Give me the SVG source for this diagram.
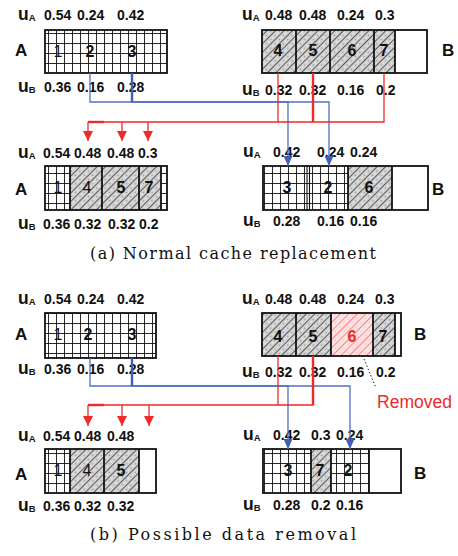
<svg xmlns="http://www.w3.org/2000/svg" width="458" height="556" viewBox="0 0 458 556">
<defs>
<style>
.n{font-family:"Liberation Sans",Arial,sans-serif;font-size:14px;font-weight:bold;fill:#111}
.u{font-family:"Liberation Sans",Arial,sans-serif;font-size:17.5px;font-weight:bold;fill:#111}
.s{font-size:9.5px}
.lbl{font-family:"Liberation Sans",Arial,sans-serif;font-size:17px;font-weight:bold;fill:#111}
.c{font-family:"Liberation Sans",Arial,sans-serif;font-size:16px;font-weight:bold;fill:#111;text-anchor:middle}
.c1{font-weight:normal}
.cap{font-family:"DejaVu Serif","Liberation Serif",serif;font-size:16px;fill:#111}
.box{fill:none;stroke:#111;stroke-width:1.8}
.dv{stroke:#111;stroke-width:1.8}
.dv2{stroke:#111;stroke-width:1.1}
.r{fill:none;stroke:#ee2a2a;stroke-width:1.3}
.rt{fill:none;stroke:#ee2a2a;stroke-width:2.4}
.b{fill:none;stroke:#5070c0;stroke-width:1.3}
.bt{fill:none;stroke:#3f5fb5;stroke-width:2.4}
.ra{marker-end:url(#arR)}
.ba{marker-end:url(#arB)}
</style>
<pattern id="grid" patternUnits="userSpaceOnUse" width="8" height="10">
<rect width="8" height="10" fill="#fff"/>
<line x1="0.5" y1="0" x2="0.5" y2="10" stroke="#111" stroke-width="0.9"/>
<line x1="0" y1="3.5" x2="8" y2="3.5" stroke="#111" stroke-width="0.9"/>
</pattern>
<pattern id="hatch" patternUnits="userSpaceOnUse" width="6" height="6" patternTransform="rotate(45)">
<rect width="6" height="6" fill="#d2d2d2"/>
<line x1="0.5" y1="0" x2="0.5" y2="6" stroke="#3a3a3a" stroke-width="0.8"/>
<circle cx="3.5" cy="1.5" r="0.6" fill="#fff"/>
<circle cx="3.5" cy="4.5" r="0.6" fill="#808080"/>
</pattern>
<pattern id="hatchR" patternUnits="userSpaceOnUse" width="6" height="6" patternTransform="rotate(45)">
<rect width="6" height="6" fill="#fde3e3"/>
<line x1="0.5" y1="0" x2="0.5" y2="6" stroke="#f07070" stroke-width="0.8"/>
<circle cx="3.5" cy="3" r="0.6" fill="#f5a0a0"/>
</pattern>
<marker id="arR" markerUnits="userSpaceOnUse" markerWidth="10" markerHeight="10" viewBox="0 0 10 10" refX="10" refY="5" orient="auto">
<path d="M0,0 L10,5 L0,10 z" fill="#ee2a2a"/>
</marker>
<marker id="arB" markerUnits="userSpaceOnUse" markerWidth="10" markerHeight="9" viewBox="0 0 10 9" refX="10" refY="4.5" orient="auto">
<path d="M0,0 L10,4.5 L0,9 z" fill="#4060b8"/>
</marker>
</defs>
<rect width="458" height="556" fill="#fff"/>

<!-- (a) top cache A -->
<g id="a-top-A">
<rect x="45" y="30" width="122" height="43" fill="url(#grid)"/>
<rect class="box" x="45" y="30" width="122" height="43"/>
<text class="c c1" x="58" y="57">1</text>
<text class="c" x="90" y="57">2</text>
<text class="c" x="132" y="57">3</text>
<text class="lbl" x="15" y="56">A</text>
</g>

<!-- (a) top cache B -->
<g id="a-top-B">
<rect x="262" y="30" width="133" height="43" fill="url(#hatch)"/>
<line class="dv" x1="296" y1="30" x2="296" y2="73"/>
<line class="dv" x1="330" y1="30" x2="330" y2="73"/>
<line class="dv" x1="374" y1="30" x2="374" y2="73"/>
<line class="dv" x1="395" y1="30" x2="395" y2="73"/>
<rect class="box" x="262" y="30" width="165" height="43"/>
<text class="c" x="278" y="56">4</text>
<text class="c" x="313" y="56">5</text>
<text class="c" x="352" y="56">6</text>
<text class="c" x="384" y="56">7</text>
<text class="lbl" x="442" y="56">B</text>
</g>

<!-- (a) lower cache A -->
<g id="a-bot-A">
<rect x="45" y="166" width="25" height="44" fill="url(#grid)"/>
<rect x="70" y="166" width="91" height="44" fill="url(#hatch)"/>
<rect x="161" y="166" width="6" height="44" fill="url(#grid)"/>
<line class="dv" x1="70" y1="166" x2="70" y2="210"/>
<line class="dv" x1="102" y1="166" x2="102" y2="210"/>
<line class="dv" x1="139" y1="166" x2="139" y2="210"/>
<line class="dv" x1="161" y1="166" x2="161" y2="210"/>
<rect class="box" x="45" y="166" width="122" height="44"/>
<text class="c c1" x="58" y="193">1</text>
<text class="c c1" x="87" y="193">4</text>
<text class="c" x="121" y="193">5</text>
<text class="c" x="149" y="193">7</text>
<text class="lbl" x="15" y="195">A</text>
</g>

<!-- (a) lower cache B -->
<g id="a-bot-B">
<rect x="263" y="166" width="85" height="44" fill="url(#grid)"/>
<rect x="348" y="166" width="44" height="44" fill="url(#hatch)"/>
<line class="dv2" x1="307" y1="166" x2="307" y2="210"/>
<line class="dv2" x1="309.5" y1="166" x2="309.5" y2="210"/>
<line class="dv" x1="348" y1="166" x2="348" y2="210"/>
<line class="dv" x1="392" y1="166" x2="392" y2="210"/>
<rect class="box" x="263" y="166" width="165" height="44"/>
<text class="c" x="287" y="193">3</text>
<text class="c" x="328" y="193">2</text>
<text class="c" x="369" y="193">6</text>
<text class="lbl" x="432" y="195">B</text>
</g>

<!-- (b) top cache A -->
<g id="b-top-A">
<rect x="45" y="313" width="111" height="45" fill="url(#grid)"/>
<rect class="box" x="45" y="313" width="111" height="45"/>
<text class="c c1" x="58" y="340">1</text>
<text class="c" x="88" y="340">2</text>
<text class="c" x="132" y="340">3</text>
<text class="lbl" x="15" y="340">A</text>
</g>

<!-- (b) top cache B -->
<g id="b-top-B">
<rect x="262" y="313" width="69" height="43" fill="url(#hatch)"/>
<rect x="331" y="313" width="42" height="43" fill="url(#hatchR)"/>
<rect x="373" y="313" width="22" height="43" fill="url(#hatch)"/>
<line class="dv" x1="296" y1="313" x2="296" y2="356"/>
<line class="dv" x1="331" y1="313" x2="331" y2="356"/>
<line class="dv" x1="373" y1="313" x2="373" y2="356"/>
<line class="dv" x1="395" y1="313" x2="395" y2="356"/>
<rect class="box" x="262" y="313" width="139" height="43"/>
<text class="c" x="278" y="342">4</text>
<text class="c" x="313" y="342">5</text>
<text class="c" x="352" y="342" style="fill:#ee2a2a">6</text>
<text class="c" x="383" y="342">7</text>
<text class="lbl" x="414" y="340">B</text>
</g>

<!-- (b) lower cache A -->
<g id="b-bot-A">
<rect x="45" y="449" width="25" height="44" fill="url(#grid)"/>
<rect x="70" y="449" width="69" height="44" fill="url(#hatch)"/>
<line class="dv" x1="70" y1="449" x2="70" y2="493"/>
<line class="dv" x1="104" y1="449" x2="104" y2="493"/>
<line class="dv" x1="139" y1="449" x2="139" y2="493"/>
<rect class="box" x="45" y="449" width="111" height="44"/>
<text class="c c1" x="58" y="476">1</text>
<text class="c c1" x="87" y="476">4</text>
<text class="c" x="121" y="476">5</text>
<text class="lbl" x="15" y="480">A</text>
</g>

<!-- (b) lower cache B -->
<g id="b-bot-B">
<rect x="263" y="449" width="48" height="44" fill="url(#grid)"/>
<rect x="311" y="449" width="20" height="44" fill="url(#hatch)"/>
<rect x="331" y="449" width="38" height="44" fill="url(#grid)"/>
<line class="dv" x1="311" y1="449" x2="311" y2="493"/>
<line class="dv" x1="331" y1="449" x2="331" y2="493"/>
<line class="dv" x1="369" y1="449" x2="369" y2="493"/>
<rect class="box" x="263" y="449" width="138" height="44"/>
<text class="c" x="288" y="476">3</text>
<text class="c" x="320" y="476">7</text>
<text class="c" x="348" y="476">2</text>
<text class="lbl" x="414" y="479">B</text>
</g>

<!-- utility labels -->
<g id="labels">
<text class="u" x="18" y="20">u<tspan class="s" dy="1">A</tspan></text>
<text class="n" y="20"><tspan x="44">0.54</tspan><tspan x="77">0.24</tspan><tspan x="117">0.42</tspan></text>
<text class="u" x="18" y="92">u<tspan class="s" dy="1">B</tspan></text>
<text class="n" y="92"><tspan x="44">0.36</tspan><tspan x="77">0.16</tspan><tspan x="117">0.28</tspan></text>
<text class="u" x="242" y="20">u<tspan class="s" dy="1">A</tspan></text>
<text class="n" y="20"><tspan x="265">0.48</tspan><tspan x="299">0.48</tspan><tspan x="337">0.24</tspan><tspan x="375">0.3</tspan></text>
<text class="u" x="242" y="95">u<tspan class="s" dy="1">B</tspan></text>
<text class="n" y="95"><tspan x="265">0.32</tspan><tspan x="299">0.32</tspan><tspan x="337">0.16</tspan><tspan x="376">0.2</tspan></text>

<text class="u" x="18" y="158">u<tspan class="s" dy="1">A</tspan></text>
<text class="n" y="158"><tspan x="43">0.54</tspan><tspan x="74">0.48</tspan><tspan x="107">0.48</tspan><tspan x="138">0.3</tspan></text>
<text class="u" x="18" y="229">u<tspan class="s" dy="1">B</tspan></text>
<text class="n" y="229"><tspan x="43">0.36</tspan><tspan x="74">0.32</tspan><tspan x="108">0.32</tspan><tspan x="139">0.2</tspan></text>
<text class="u" x="243" y="157">u<tspan class="s" dy="1">A</tspan></text>
<text class="n" y="157"><tspan x="273">0.42</tspan><tspan x="317">0.24</tspan><tspan x="350">0.24</tspan></text>
<text class="u" x="243" y="226">u<tspan class="s" dy="1">B</tspan></text>
<text class="n" y="226"><tspan x="273">0.28</tspan><tspan x="317">0.16</tspan><tspan x="350">0.16</tspan></text>

<text class="u" x="18" y="304">u<tspan class="s" dy="1">A</tspan></text>
<text class="n" y="304"><tspan x="44">0.54</tspan><tspan x="77">0.24</tspan><tspan x="117">0.42</tspan></text>
<text class="u" x="18" y="374">u<tspan class="s" dy="1">B</tspan></text>
<text class="n" y="374"><tspan x="44">0.36</tspan><tspan x="77">0.16</tspan><tspan x="117">0.28</tspan></text>
<text class="u" x="242" y="304">u<tspan class="s" dy="1">A</tspan></text>
<text class="n" y="304"><tspan x="265">0.48</tspan><tspan x="299">0.48</tspan><tspan x="337">0.24</tspan><tspan x="375">0.3</tspan></text>
<text class="u" x="242" y="377">u<tspan class="s" dy="1">B</tspan></text>
<text class="n" y="377"><tspan x="265">0.32</tspan><tspan x="299">0.32</tspan><tspan x="337">0.16</tspan><tspan x="376">0.2</tspan></text>

<text class="u" x="18" y="441">u<tspan class="s" dy="1">A</tspan></text>
<text class="n" y="441"><tspan x="43">0.54</tspan><tspan x="74">0.48</tspan><tspan x="107">0.48</tspan></text>
<text class="u" x="18" y="511">u<tspan class="s" dy="1">B</tspan></text>
<text class="n" y="511"><tspan x="43">0.36</tspan><tspan x="74">0.32</tspan><tspan x="107">0.32</tspan></text>
<text class="u" x="243" y="440">u<tspan class="s" dy="1">A</tspan></text>
<text class="n" y="440"><tspan x="273">0.42</tspan><tspan x="311">0.3</tspan><tspan x="336">0.24</tspan></text>
<text class="u" x="243" y="510">u<tspan class="s" dy="1">B</tspan></text>
<text class="n" y="510"><tspan x="273">0.28</tspan><tspan x="311">0.2</tspan><tspan x="336">0.16</tspan></text>
</g>

<!-- connectors -->
<g id="connectors">
<!-- (a) blue: A to B -->
<path class="b ba" d="M90,73 V102 H329 V166"/>
<path class="b ba" d="M132,90 V102 H288 V166"/>
<path class="bt" d="M132,73 V102"/>
<!-- (a) red: B to A -->
<path class="r" d="M278,73 V122 H104"/>
<path class="r" d="M384,73 V122 H278"/>
<path class="rt" d="M313,73 V122"/>
<path class="rt" d="M104,122 H88"/>
<path class="r ra" d="M88,122 V141"/>
<path class="r ra" d="M122,122 V141"/>
<path class="r ra" d="M148,122 V141"/>
<!-- (b) blue -->
<path class="b ba" d="M90,358 V386 H350 V449"/>
<path class="b ba" d="M132,375 V386 H288 V449"/>
<path class="bt" d="M132,358 V386"/>
<!-- (b) red -->
<path class="r" d="M278,356 V405 H104"/>
<path class="r" d="M313,380 V405 H278"/>
<path class="rt" d="M313,356 V405"/>
<path class="rt" d="M104,405 H88"/>
<path class="r ra" d="M88,405 V426"/>
<path class="r ra" d="M122,405 V426"/>
<path class="r ra" d="M149,405 V426"/>
<!-- removed pointer -->
<path d="M364,359 L376,388" fill="none" stroke="#222" stroke-width="1" stroke-dasharray="1.5 2"/>
</g>

<g id="removed-note">
<text x="377" y="408" textLength="75" lengthAdjust="spacingAndGlyphs" style="font-family:'Liberation Sans',Arial,sans-serif;font-size:17.5px;fill:#ee2a2a">Removed</text>
</g>

<g id="captions">
<text class="cap" x="90" y="259" textLength="286" lengthAdjust="spacing">(a) Normal cache replacement</text>
<text class="cap" x="90" y="540" textLength="266" lengthAdjust="spacing">(b) Possible data removal</text>
</g>
</svg>
